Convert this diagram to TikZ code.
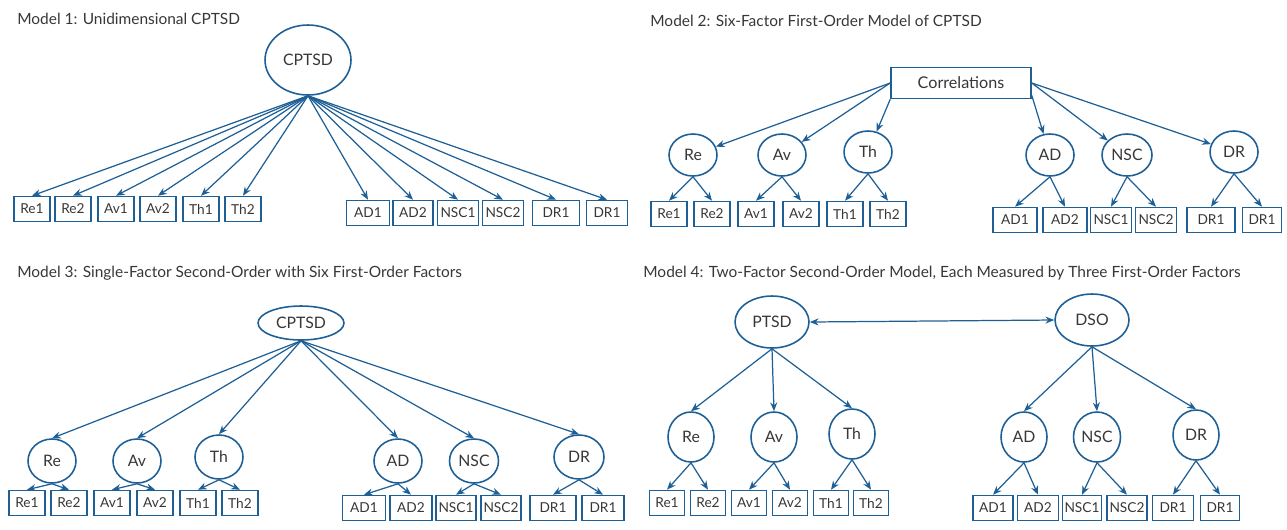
\documentclass[tikz,border=0pt]{standalone}
\usepackage{fontspec}
\setmainfont{Lato}
\definecolor{pathblue}{RGB}{30, 95, 150}
\definecolor{textgray}{RGB}{55, 55, 55}
\usepackage{tikz}
\usetikzlibrary{shapes, arrows.meta, positioning, calc}

\tikzset{
  latent/.style={ellipse, draw=pathblue, line width=0.9pt, inner sep=0pt, text=textgray, font=\fontsize{9}{10}\selectfont},
  item/.style={rectangle, draw=pathblue, line width=0.9pt, inner sep=0pt, minimum width=0.72cm, minimum height=0.5cm, text=textgray, font=\fontsize{7.8}{9}\selectfont},
  load/.style={draw=pathblue, line width=0.7pt, -{Stealth[length=5pt, width=4pt]}},
  modeltitle/.style={anchor=west, inner sep=0pt, text=textgray, font=\fontsize{8.8}{10}\selectfont}
}

\begin{document}
\begin{tikzpicture}[x=0.02cm, y=-0.02cm]
  \useasboundingbox (0,0) rectangle (1287,529);

  % Model 1
  \node[modeltitle] (t1) at (17,19) {Model 1: Unidimensional CPTSD};
  \node[latent, minimum width=1.72cm, minimum height=1.4cm] (m1cptsd) at (308,60) {CPTSD};

  \node[item] (m1re1) at (32,209) {Re1};
  \node[item] (m1re2) at (73,209) {Re2};
  \node[item] (m1av1) at (116,209) {Av1};
  \node[item] (m1av2) at (158,209) {Av2};
  \node[item] (m1th1) at (201,209) {Th1};
  \node[item] (m1th2) at (243,209) {Th2};
  \node[item, minimum width=0.86cm] (m1ad1) at (368,213) {AD1};
  \node[item, minimum width=0.8cm] (m1ad2) at (413,213) {AD2};
  \node[item, minimum width=0.82cm] (m1nsc1) at (458,213) {NSC1};
  \node[item, minimum width=0.82cm] (m1nsc2) at (503,213) {NSC2};
  \node[item, minimum width=0.94cm] (m1dr1) at (556,213) {DR1};
  \node[item, minimum width=0.82cm] (m1dr2) at (607,213) {DR1};

  \foreach \i in {re1,re2,av1,av2,th1,th2,ad1,ad2,nsc1,nsc2,dr1,dr2}
    \draw[load] (m1cptsd.south) -- (m1\i.north);

  % Model 2
  \node[modeltitle] (t2) at (650,21) {Model 2: Six-Factor First-Order Model of CPTSD};
  \node[item, minimum width=2.8cm, minimum height=0.62cm, font=\fontsize{9.2}{10}\selectfont] (corr) at (961,83) {Correlations};

  \node[latent, minimum width=0.96cm, minimum height=0.84cm] (m2re) at (693,155) {Re};
  \node[latent, minimum width=0.96cm, minimum height=0.84cm] (m2av) at (782,155) {Av};
  \node[latent, minimum width=0.96cm, minimum height=0.84cm] (m2th) at (868,152) {Th};
  \node[latent, minimum width=0.96cm, minimum height=0.84cm] (m2ad) at (1050,155) {AD};
  \node[latent, minimum width=1.0cm, minimum height=0.84cm] (m2nsc) at (1127,155) {NSC};
  \node[latent, minimum width=0.96cm, minimum height=0.84cm] (m2dr) at (1234,152) {DR};

  \draw[load] (corr.west) -- (m2re);
  \draw[load] (corr.west) -- (m2av);
  \draw[load] (corr.south west) -- (m2th);
  \draw[load] (corr.-10) -- (m2ad);
  \draw[load] (corr.east) -- (m2nsc);
  \draw[load] (corr.east) -- (m2dr);

  \node[item] (m2re1) at (669,214) {Re1};
  \node[item] (m2re2) at (712,214) {Re2};
  \node[item] (m2av1) at (756,214) {Av1};
  \node[item] (m2av2) at (801,214) {Av2};
  \node[item] (m2th1) at (845,214) {Th1};
  \node[item] (m2th2) at (888,214) {Th2};
  \node[item, minimum width=0.88cm] (m2ad1) at (1015,220) {AD1};
  \node[item, minimum width=0.88cm] (m2ad2) at (1065,220) {AD2};
  \node[item, minimum width=0.82cm] (m2nsc1) at (1111,220) {NSC1};
  \node[item, minimum width=0.82cm] (m2nsc2) at (1156,220) {NSC2};
  \node[item, minimum width=0.96cm] (m2dr1) at (1211,220) {DR1};
  \node[item, minimum width=0.78cm] (m2dr2) at (1262,220) {DR1};

  \foreach \f/\a/\b in {re/re1/re2, av/av1/av2, th/th1/th2, ad/ad1/ad2, nsc/nsc1/nsc2, dr/dr1/dr2} {
    \draw[load] (m2\f.south) -- (m2\a.north);
    \draw[load] (m2\f.south) -- (m2\b.north);
  }

  % Model 3
  \node[modeltitle] (t3) at (17,273) {Model 3: Single-Factor Second-Order with Six First-Order Factors};
  \node[latent, minimum width=1.72cm, minimum height=0.68cm] (m3cptsd) at (301,323) {CPTSD};

  \node[latent, minimum width=0.96cm, minimum height=0.88cm] (m3re) at (52,461) {Re};
  \node[latent, minimum width=0.96cm, minimum height=0.88cm] (m3av) at (137,461) {Av};
  \node[latent, minimum width=0.96cm, minimum height=0.88cm] (m3th) at (219,457) {Th};
  \node[latent, minimum width=0.96cm, minimum height=0.88cm] (m3ad) at (398,461) {AD};
  \node[latent, minimum width=0.98cm, minimum height=0.88cm] (m3nsc) at (474,461) {NSC};
  \node[latent, minimum width=1.0cm, minimum height=0.88cm] (m3dr) at (579,457) {DR};

  \foreach \f in {re,av,th,ad,nsc,dr}
    \draw[load] (m3cptsd.south) -- (m3\f.north);

  \node[item] (m3re1) at (27,503) {Re1};
  \node[item] (m3re2) at (69,503) {Re2};
  \node[item] (m3av1) at (112,503) {Av1};
  \node[item] (m3av2) at (155,503) {Av2};
  \node[item] (m3th1) at (198,503) {Th1};
  \node[item] (m3th2) at (240,503) {Th2};
  \node[item, minimum width=0.86cm] (m3ad1) at (364,508) {AD1};
  \node[item, minimum width=0.84cm] (m3ad2) at (411,508) {AD2};
  \node[item, minimum width=0.8cm] (m3nsc1) at (456,508) {NSC1};
  \node[item, minimum width=0.8cm] (m3nsc2) at (501,508) {NSC2};
  \node[item, minimum width=0.92cm] (m3dr1) at (553,508) {DR1};
  \node[item, minimum width=0.84cm] (m3dr2) at (603,508) {DR1};

  \foreach \f/\a/\b in {re/re1/re2, av/av1/av2, th/th1/th2, ad/ad1/ad2, nsc/nsc1/nsc2, dr/dr1/dr2} {
    \draw[load] (m3\f.south) -- (m3\a.north);
    \draw[load] (m3\f.south) -- (m3\b.north);
  }

  % Model 4
  \node[modeltitle] (t4) at (643,273) {Model 4: Two-Factor Second-Order Model, Each Measured by Three First-Order Factors};
  \node[latent, minimum width=1.48cm, minimum height=1.04cm] (m4ptsd) at (772,322) {PTSD};
  \node[latent, minimum width=1.48cm, minimum height=1.04cm] (m4dso) at (1092,320) {DSO};
  \draw[load, {Stealth[length=5pt, width=4pt]}-{Stealth[length=5pt, width=4pt]}] (m4ptsd.east) -- (m4dso.west);

  \node[latent, minimum width=0.92cm, minimum height=1.0cm] (m4re) at (691,437) {Re};
  \node[latent, minimum width=0.92cm, minimum height=1.0cm] (m4av) at (774,437) {Av};
  \node[latent, minimum width=0.92cm, minimum height=1.0cm] (m4th) at (852,434) {Th};
  \node[latent, minimum width=0.92cm, minimum height=1.0cm] (m4ad) at (1024,437) {AD};
  \node[latent, minimum width=0.94cm, minimum height=1.0cm] (m4nsc) at (1097,437) {NSC};
  \node[latent, minimum width=0.92cm, minimum height=1.0cm] (m4dr) at (1196,435) {DR};

  \foreach \f in {re,av,th}
    \draw[load] (m4ptsd.south) -- (m4\f.north);
  \foreach \f in {ad,nsc,dr}
    \draw[load] (m4dso.south) -- (m4\f.north);

  \node[item, minimum width=0.7cm] (m4re1) at (667,503) {Re1};
  \node[item, minimum width=0.7cm] (m4re2) at (708,503) {Re2};
  \node[item, minimum width=0.7cm] (m4av1) at (749,503) {Av1};
  \node[item, minimum width=0.7cm] (m4av2) at (790,503) {Av2};
  \node[item, minimum width=0.7cm] (m4th1) at (831,503) {Th1};
  \node[item, minimum width=0.7cm] (m4th2) at (871,503) {Th2};
  \node[item, minimum width=0.8cm] (m4ad1) at (993,508) {AD1};
  \node[item, minimum width=0.82cm] (m4ad2) at (1038,508) {AD2};
  \node[item, minimum width=0.78cm] (m4nsc1) at (1082,508) {NSC1};
  \node[item, minimum width=0.8cm] (m4nsc2) at (1127,508) {NSC2};
  \node[item, minimum width=0.82cm] (m4dr1) at (1173,508) {DR1};
  \node[item, minimum width=0.78cm] (m4dr2) at (1220,508) {DR1};

  \foreach \f/\a/\b in {re/re1/re2, av/av1/av2, th/th1/th2, ad/ad1/ad2, nsc/nsc1/nsc2, dr/dr1/dr2} {
    \draw[load] (m4\f.south) -- (m4\a.north);
    \draw[load] (m4\f.south) -- (m4\b.north);
  }
\end{tikzpicture}
\end{document}
